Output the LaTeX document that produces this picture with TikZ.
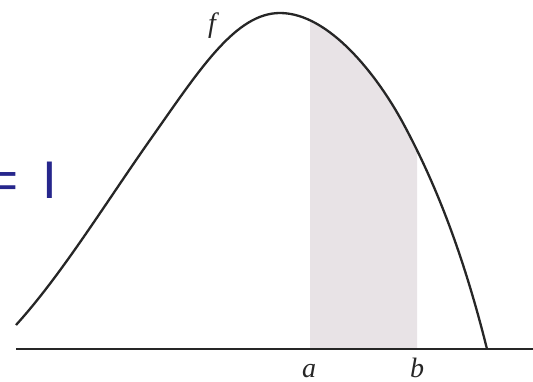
\documentclass[tikz,border=0pt]{standalone}
\usepackage{fontspec}
\setmainfont{Liberation Serif}
\newfontfamily\eqfont{Liberation Sans}
\definecolor{eqblue}{RGB}{38,38,140}
\definecolor{shadegray}{RGB}{232,227,230}
\begin{document}
\begin{tikzpicture}[x=1pt,y=-1pt,
  curvestyle/.style={line width=2.3pt,black!85},
  axisstyle/.style={line width=1.5pt,black!85},
  lbl/.style={inner sep=0pt,font=\fontsize{28}{30}\selectfont\itshape,text=black!85}]
\useasboundingbox (0,0) rectangle (533,381);
\def\fcurve{(16,325) .. controls (61,275.5) and (105,204) .. (150,140)
  .. controls (199.8,69.3) and (235.5,13) .. (280,13)
  .. controls (328.7,13) and (377,74.9) .. (403,123)
  .. controls (435.2,182.6) and (462.8,252.2) .. (487,349)}
\begin{scope}
  \clip (310,0) rectangle (417,349);
  \fill[shadegray] \fcurve -- (16,349) -- cycle;
\end{scope}
\draw[axisstyle] (16,349) coordinate (axl) -- (533,349) coordinate (axr);
\draw[curvestyle] \fcurve;
\node[lbl,anchor=base] (f) at (212,32) {f};
\node[lbl,anchor=base] (a) at (309,377) {a};
\node[lbl,anchor=base] (b) at (417,377) {b};
\node[inner sep=0pt,anchor=base west,text=eqblue,font=\eqfont\fontsize{53}{60}\selectfont] (eq) at (-12.6,198) {=\kern23.6pt I};
\end{tikzpicture}
\end{document}
